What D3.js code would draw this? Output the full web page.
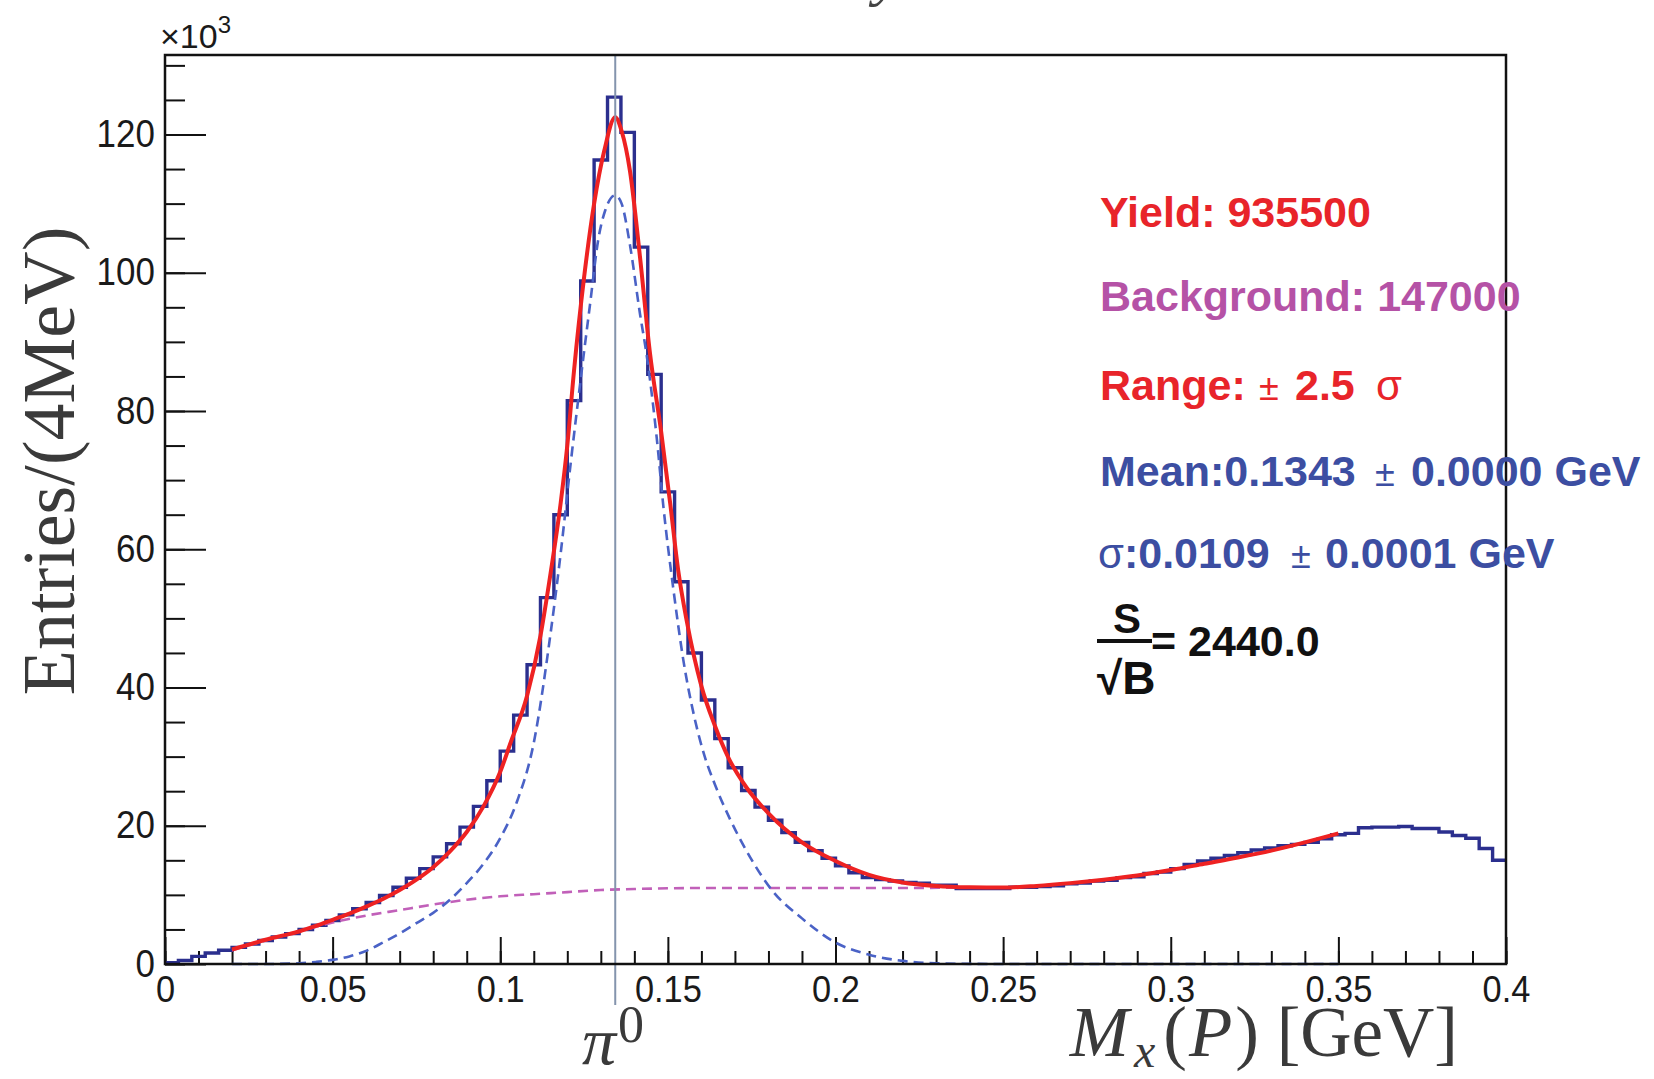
<!DOCTYPE html>
<html>
<head>
<meta charset="utf-8">
<script src="https://cdn.jsdelivr.net/npm/d3@7"></script>
<style>
  body { margin: 0; background: #fff; }
  svg { display: block; }
  text { white-space: pre; }
</style>
</head>
<body>
<svg id="chart" width="1654" height="1079"></svg>
<script>
// histogram: 100 bins of 4 MeV between 0 and 0.4 GeV, entries in units of 10^3
const histRange = [0, 0.4];
const binCounts = [
  0.2, 0.5, 1.1, 1.6, 2.0, 2.4, 2.9, 3.4, 3.9, 4.4,
  5.0, 5.6, 6.3, 7.1, 8.0, 8.9, 9.9, 11.1, 12.4, 13.8,
  15.5, 17.4, 19.8, 22.8, 26.5, 30.8, 36.0, 43.3, 53.0, 65.0,
  81.5, 98.8, 116.3, 125.4, 120.3, 103.7, 85.3, 68.3, 55.3, 45.0,
  38.2, 32.6, 28.4, 25.1, 22.7, 20.8, 19.0, 17.6, 16.4, 15.3,
  14.2, 13.2, 12.5, 12.2, 12.0, 11.8, 11.7, 11.4, 11.4, 10.9,
  10.9, 10.9, 10.9, 11.1, 11.1, 11.2, 11.3, 11.6, 11.7, 12.0,
  12.1, 12.5, 12.6, 13.1, 13.3, 13.8, 14.4, 14.9, 15.3, 15.7,
  16.1, 16.5, 16.8, 17.1, 17.3, 17.6, 18.1, 18.7, 18.9, 19.7,
  19.8, 19.8, 19.9, 19.6, 19.6, 19.1, 18.6, 18.2, 16.7, 15.0
];

// total fit (signal + background)
const fitX = [0.020, 0.025, 0.030, 0.035, 0.040, 0.045, 0.050, 0.055, 0.060, 0.065,
  0.070, 0.075, 0.080, 0.085, 0.090, 0.095, 0.100, 0.103, 0.108, 0.112,
  0.115, 0.118, 0.120, 0.122, 0.125, 0.128, 0.131, 0.1343, 0.1362, 0.1387,
  0.1417, 0.1447, 0.148, 0.1507, 0.1531, 0.1556, 0.160, 0.164, 0.168, 0.1735,
  0.180, 0.190, 0.200, 0.210, 0.220, 0.230, 0.240, 0.250, 0.260, 0.270,
  0.280, 0.290, 0.300, 0.310, 0.320, 0.330, 0.340, 0.350];
const fitY = [2.1, 2.8, 3.5, 4.1, 4.7, 5.5, 6.4, 7.3, 8.3, 9.4,
  10.7, 12.2, 14.0, 16.3, 19.1, 22.8, 27.8, 31.9, 38.8, 47.5,
  56.5, 66.6, 75.0, 85.8, 99.3, 110.0, 117.6, 122.5, 120.5, 114.7,
  102.2, 88.2, 77.0, 66.6, 56.9, 49.7, 40.2, 34.5, 29.9, 25.5,
  21.8, 17.6, 14.9, 12.9, 11.8, 11.3, 11.1, 11.05, 11.3, 11.7,
  12.2, 12.8, 13.6, 14.5, 15.4, 16.4, 17.6, 18.9];

// signal component (blue dashed)
const sigX = [0.020, 0.030, 0.040, 0.045, 0.050, 0.055, 0.060, 0.065, 0.070, 0.075,
  0.080, 0.085, 0.090, 0.095, 0.100, 0.105, 0.110, 0.115, 0.118, 0.121,
  0.1243, 0.1268, 0.1293, 0.1313, 0.1343, 0.1362, 0.1387, 0.1417, 0.1437, 0.1467,
  0.1487, 0.1517, 0.1546, 0.158, 0.161, 0.164, 0.1685, 0.1733, 0.181, 0.190,
  0.200, 0.210, 0.220, 0.230, 0.240, 0.260, 0.300, 0.350];
const sigY = [0, 0, 0.1, 0.3, 0.6, 1.1, 1.9, 3.1, 4.4, 5.9,
  7.4, 9.3, 11.7, 14.5, 18.2, 23.5, 32.0, 47.8, 59.3, 72.4,
  85.8, 95.5, 105.0, 109.0, 111.2, 110.0, 104.0, 94.0, 88.0, 76.0,
  66.0, 54.0, 44.0, 35.5, 30.0, 26.0, 21.0, 16.5, 10.7, 6.6,
  3.1, 1.35, 0.45, 0.1, 0.02, 0, 0, 0];

// background component (magenta dashed)
const bkgX = [0.020, 0.030, 0.040, 0.050, 0.060, 0.070, 0.080, 0.090, 0.100, 0.110,
  0.120, 0.130, 0.140, 0.150, 0.160, 0.180, 0.200, 0.220, 0.240, 0.250,
  0.260, 0.270, 0.280, 0.290, 0.300, 0.310, 0.320, 0.330, 0.340, 0.350];
const bkgY = [2.0, 3.4, 4.7, 6.0, 7.0, 7.8, 8.6, 9.3, 9.8, 10.1,
  10.4, 10.7, 10.85, 10.95, 11.0, 11.0, 11.0, 11.0, 11.05, 11.05,
  11.3, 11.7, 12.2, 12.8, 13.6, 14.5, 15.4, 16.4, 17.6, 18.9];

const piMass = 0.1343; // fitted mean, marked with the vertical line

const xTicks = [0, 0.05, 0.1, 0.15, 0.2, 0.25, 0.3, 0.35, 0.4];
const xTickLabels = ["0", "0.05", "0.1", "0.15", "0.2", "0.25", "0.3", "0.35", "0.4"];
const yTicks = [0, 20, 40, 60, 80, 100, 120];
const yTickLabels = ["0", "20", "40", "60", "80", "100", "120"];

const svg = d3.select("#chart");

// frame of the plot
const frame = { left: 165, right: 1506, top: 55, bottom: 964 };

const x = d3.scaleLinear().domain(histRange).range([frame.left, frame.right]);
const y = d3.scaleLinear().domain([0, 131.5]).range([frame.bottom, frame.top]);

const sans = "'Liberation Sans', Arial, Helvetica, sans-serif";
const serif = "'Liberation Serif', 'Times New Roman', serif";

// ---- axes (ticks point into the frame, like ROOT) ----
const yMinor = d3.range(0, 131, 5);
const xMinor = d3.range(0, 0.4001, 0.01);

svg.append("g")
  .attr("transform", `translate(${frame.left},0)`)
  .call(d3.axisLeft(y).tickValues(yMinor).tickSize(-20).tickFormat(""))
  .call(g => g.select(".domain").remove())
  .selectAll("line").attr("stroke", "#111").attr("stroke-width", 2);

const yAxis = svg.append("g")
  .attr("transform", `translate(${frame.left},0)`)
  .call(d3.axisLeft(y).tickValues(yTicks).tickSize(-41).tickPadding(11)
    .tickFormat((d, i) => yTickLabels[i]));
yAxis.select(".domain").remove();
yAxis.selectAll("line").attr("stroke", "#111").attr("stroke-width", 2);
yAxis.selectAll("text")
  .attr("font-family", sans).attr("font-size", 38).attr("fill", "#1a1a1a")
  .attr("transform", "scale(0.92,1)"); // slightly condensed like the original labels

svg.append("g")
  .attr("transform", `translate(0,${frame.bottom})`)
  .call(d3.axisBottom(x).tickValues(xMinor).tickSize(-13).tickFormat(""))
  .call(g => g.select(".domain").remove())
  .selectAll("line").attr("stroke", "#111").attr("stroke-width", 2);

const xAxis = svg.append("g")
  .attr("transform", `translate(0,${frame.bottom})`)
  .call(d3.axisBottom(x).tickValues(xTicks).tickSize(-27).tickPadding(12)
    .tickFormat((d, i) => xTickLabels[i]));
xAxis.select(".domain").remove();
xAxis.selectAll("line").attr("stroke", "#111").attr("stroke-width", 2);
xAxis.selectAll("text")
  .attr("font-family", sans).attr("font-size", 37).attr("fill", "#1a1a1a")
  .attr("transform", "scale(0.93,1)");

// ---- histogram as a step line ----
const binW = (histRange[1] - histRange[0]) / binCounts.length;
const histPts = binCounts.map((v, i) => [histRange[0] + i * binW, v]);
histPts.push([histRange[1], binCounts[binCounts.length - 1]]);

svg.append("path")
  .datum(histPts)
  .attr("fill", "none")
  .attr("stroke", "#2b2f8e")
  .attr("stroke-width", 3.4)
  .attr("d", d3.line().x(d => x(d[0])).y(d => y(d[1])).curve(d3.curveStepAfter));

// ---- fit components ----
const smooth = d3.line().x(d => x(d[0])).y(d => y(d[1])).curve(d3.curveMonotoneX);

svg.append("path")
  .datum(bkgX.map((v, i) => [v, bkgY[i]]))
  .attr("fill", "none")
  .attr("stroke", "#c160b9")
  .attr("stroke-width", 2.6)
  .attr("stroke-dasharray", "10,6")
  .attr("d", smooth);

svg.append("path")
  .datum(sigX.map((v, i) => [v, sigY[i]]))
  .attr("fill", "none")
  .attr("stroke", "#4a62c6")
  .attr("stroke-width", 2.6)
  .attr("stroke-dasharray", "10,6")
  .attr("d", smooth);

svg.append("path")
  .datum(fitX.map((v, i) => [v, fitY[i]]))
  .attr("fill", "none")
  .attr("stroke", "#ee2222")
  .attr("stroke-width", 4)
  .attr("stroke-linejoin", "round")
  .attr("d", smooth);

// vertical marker at the fitted pi0 mass, runs below the axis down to the label
svg.append("line")
  .attr("x1", x(piMass)).attr("x2", x(piMass))
  .attr("y1", frame.top).attr("y2", 1005)
  .attr("stroke", "#8494ad")
  .attr("stroke-width", 2);

// frame
svg.append("rect")
  .attr("x", frame.left).attr("y", frame.top)
  .attr("width", frame.right - frame.left).attr("height", frame.bottom - frame.top)
  .attr("fill", "none").attr("stroke", "#111").attr("stroke-width", 2.5);

// ---- labels ----
// bottom of the cut-off title above the frame
svg.append("text")
  .attr("x", 874).attr("y", -6)
  .attr("font-family", serif).attr("font-style", "italic")
  .attr("font-size", 62).attr("fill", "#444")
  .text("y");

const exp = svg.append("text")
  .attr("x", 160).attr("y", 48)
  .attr("font-family", sans).attr("font-size", 34).attr("fill", "#1a1a1a")
  .text("×10");
exp.append("tspan").attr("dy", -15).attr("font-size", 24).text("3");

svg.append("text")
  .attr("transform", "translate(74,461) rotate(-90)")
  .attr("text-anchor", "middle")
  .attr("font-family", serif).attr("font-size", 74).attr("fill", "#3a3a3a")
  .text("Entries/(4MeV)");

const xTitle = svg.append("text")
  .attr("x", 1458).attr("y", 1056)
  .attr("text-anchor", "end")
  .attr("font-family", serif).attr("font-size", 71).attr("fill", "#3a3a3a");
xTitle.append("tspan").attr("font-style", "italic").text("M");
xTitle.append("tspan").attr("font-style", "italic").attr("font-size", 48)
  .attr("dx", 5).attr("dy", 11).text("x");
xTitle.append("tspan").attr("dx", 8).attr("dy", -11).text("(");
xTitle.append("tspan").attr("font-style", "italic").attr("dx", 2).text("P");
xTitle.append("tspan").attr("dx", 3).text(") [GeV]");

const piLabel = svg.append("text")
  .attr("x", 582).attr("y", 1064)
  .attr("font-family", serif).attr("font-size", 68).attr("fill", "#3a3a3a");
piLabel.append("tspan").attr("font-style", "italic").text("π");
piLabel.append("tspan").attr("font-size", 52).attr("dx", 2).attr("dy", -22).text("0");

// ---- fit summary ----
const info = svg.append("g")
  .attr("font-family", sans).attr("font-size", 43).attr("font-weight", "bold");

info.append("text").attr("x", 1100).attr("y", 227).attr("fill", "#e8242a")
  .text("Yield: 935500");

info.append("text").attr("x", 1100).attr("y", 311).attr("fill", "#b552a6")
  .text("Background: 147000");

const rangeLine = info.append("text").attr("x", 1100).attr("y", 400).attr("fill", "#e8242a");
rangeLine.append("tspan").text("Range:");
rangeLine.append("tspan").attr("x", 1259).attr("font-size", 36).attr("font-weight", "normal").text("±");
rangeLine.append("tspan").attr("x", 1295).text("2.5");
rangeLine.append("tspan").attr("x", 1376).attr("font-size", 42).attr("font-weight", "normal").text("σ");

const meanLine = info.append("text").attr("x", 1100).attr("y", 486).attr("fill", "#3c4ea2");
meanLine.append("tspan").text("Mean:0.1343");
meanLine.append("tspan").attr("x", 1375).attr("font-size", 36).attr("font-weight", "normal").text("±");
meanLine.append("tspan").attr("x", 1411).text("0.0000 GeV");

const sigmaLine = info.append("text").attr("x", 1098).attr("y", 568).attr("fill", "#3c4ea2");
sigmaLine.append("tspan").attr("font-weight", "normal").attr("font-size", 42).text("σ");
sigmaLine.append("tspan").text(":0.0109");
sigmaLine.append("tspan").attr("x", 1291).attr("font-size", 36).attr("font-weight", "normal").text("±");
sigmaLine.append("tspan").attr("x", 1325).text("0.0001 GeV");

// S over sqrt(B)
info.append("text").attr("x", 1127).attr("y", 633).attr("text-anchor", "middle")
  .attr("font-size", 42).attr("fill", "#111").text("S");
info.append("line").attr("x1", 1097).attr("x2", 1152).attr("y1", 641).attr("y2", 641)
  .attr("stroke", "#111").attr("stroke-width", 4);
info.append("text").attr("x", 1097).attr("y", 694)
  .attr("font-size", 46).attr("fill", "#111").text("√B");
info.append("text").attr("x", 1151).attr("y", 656)
  .attr("fill", "#111").text("= 2440.0");
</script>
</body>
</html>
